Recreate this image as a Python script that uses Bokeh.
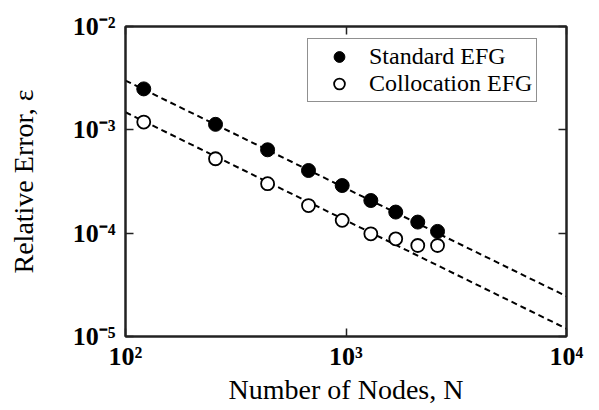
from bokeh.plotting import figure
from bokeh.models import FixedTicker, LogAxis, Legend, LegendItem
from bokeh.embed import file_html
from bokeh.resources import INLINE

# ---- data ----
nodes = [121, 256, 441, 676, 961, 1296, 1681, 2116, 2601]
err_standard = [2.49e-3, 1.13e-3, 6.41e-4, 4.04e-4, 2.89e-4, 2.07e-4, 1.60e-4, 1.28e-4, 1.04e-4]
err_collocation = [1.19e-3, 5.25e-4, 3.01e-4, 1.85e-4, 1.33e-4, 9.86e-5, 8.81e-5, 7.60e-5, 7.60e-5]

fit_nodes = [100, 10000]
fit_standard = [3.0e-3, 2.45e-5]
fit_collocation = [1.48e-3, 1.19e-5]

x_ticks = [100, 1000, 10000]
x_tick_labels = ["10²", "10³", "10⁴"]
y_ticks = [1e-5, 1e-4, 1e-3, 1e-2]
y_tick_labels = ["10⁻⁵", "10⁻⁴", "10⁻³", "10⁻²"]

series_names = ["Standard EFG", "Collocation EFG"]

SERIF = "Liberation Serif"

p = figure(width=599, height=410, x_axis_type="log", y_axis_type="log",
           x_range=(100, 10000), y_range=(1e-5, 1e-2),
           output_backend="svg", toolbar_location=None,
           min_border_left=125, min_border_top=26, min_border_right=33, min_border_bottom=74)

p.grid.visible = False
p.background_fill_color = "white"
p.border_fill_color = "white"
p.outline_line_color = "#222222"
p.outline_line_width = 2

# fitted dashed lines
p.line(fit_nodes, fit_standard, line_color="black", line_width=2, line_dash="6 4")
p.line(fit_nodes, fit_collocation, line_color="black", line_width=2, line_dash="6 4")

r_std = p.scatter(nodes, err_standard, marker="circle", size=14,
                  fill_color="black", line_color="black", line_width=1)
r_col = p.scatter(nodes, err_collocation, marker="circle", size=13,
                  fill_color="white", line_color="black", line_width=1.8)

def style_axis(ax, ticks, labels, show_labels):
    ax.ticker = FixedTicker(ticks=ticks, minor_ticks=[])
    ax.major_tick_in = 8
    ax.major_tick_out = 0
    ax.minor_tick_in = 0
    ax.minor_tick_out = 0
    ax.major_tick_line_color = "#222222"
    ax.major_tick_line_width = 1.5
    ax.axis_line_color = "#222222"
    ax.axis_line_width = 2
    ax.major_label_text_font = SERIF
    ax.major_label_text_font_style = "bold"
    ax.major_label_text_font_size = "26px"
    ax.major_label_text_color = "black"
    if show_labels:
        ax.major_label_overrides = dict(zip(ticks, labels))
    else:
        ax.major_label_overrides = {t: "" for t in ticks}
        ax.major_label_standoff = 0

xa = p.xaxis[0]
ya = p.yaxis[0]
style_axis(xa, x_ticks, x_tick_labels, True)
style_axis(ya, y_ticks, y_tick_labels, True)
xa.major_label_standoff = 5
ya.major_label_standoff = 10

xa.axis_label = "Number of Nodes, N"
ya.axis_label = "Relative Error, ε"
for ax in (xa, ya):
    ax.axis_label_text_font = SERIF
    ax.axis_label_text_font_style = "normal"
    ax.axis_label_text_font_size = "28px"
    ax.axis_label_text_color = "black"
xa.axis_label_standoff = 0
ya.axis_label_standoff = 31

top_ax = LogAxis()
right_ax = LogAxis()
style_axis(top_ax, x_ticks, x_tick_labels, False)
style_axis(right_ax, y_ticks, y_tick_labels, False)
p.add_layout(top_ax, "above")
p.add_layout(right_ax, "right")

legend = Legend(items=[LegendItem(label=series_names[0], renderers=[r_std]),
                       LegendItem(label=series_names[1], renderers=[r_col])],
                location=(182, 234))
legend.label_text_font = SERIF
legend.label_text_font_size = "24px"
legend.label_text_color = "black"
legend.label_height = 22
legend.glyph_width = 54
legend.glyph_height = 27
legend.spacing = 0
legend.padding = 4
legend.margin = 0
legend.label_standoff = 3
legend.border_line_color = "#222222"
legend.border_line_width = 1.5
legend.background_fill_alpha = 1
p.add_layout(legend, "center")

open("out.html", "w").write(file_html(p, INLINE))
